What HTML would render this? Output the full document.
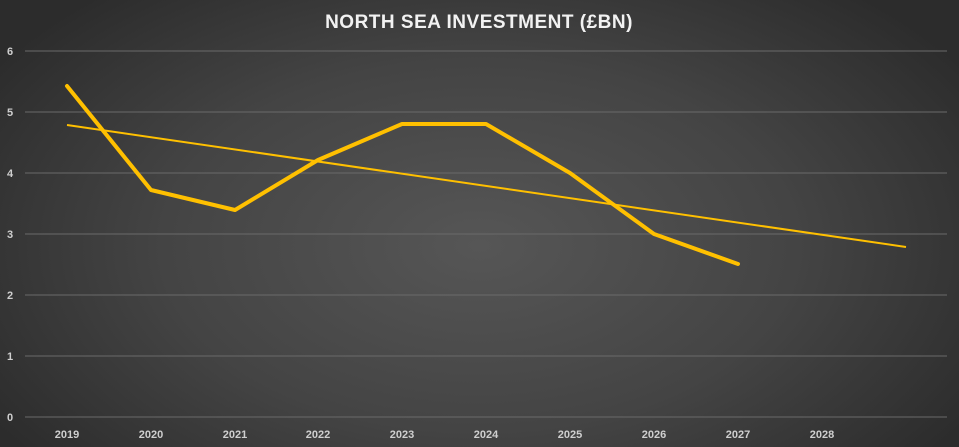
<!DOCTYPE html>
<html><head><style>
html,body{margin:0;padding:0;width:959px;height:447px;overflow:hidden}
body{background:radial-gradient(ellipse 60% 75% at 50% 55%,#565656 0%,#444 55%,#2c2c2c 100%);}
svg{position:absolute;left:0;top:0}
</style></head><body>
<svg width="959" height="447" xmlns="http://www.w3.org/2000/svg" font-family="Liberation Sans, sans-serif">
<text x="479" y="28" text-anchor="middle" fill="#f2f2f2" font-size="19" font-weight="bold" letter-spacing="0.5">NORTH SEA INVESTMENT (£BN)</text>
<g stroke="#6a6a6a" stroke-width="1">
<line x1="25" x2="947" y1="51" y2="51"/><line x1="25" x2="947" y1="112" y2="112"/>
<line x1="25" x2="947" y1="173" y2="173"/><line x1="25" x2="947" y1="234" y2="234"/>
<line x1="25" x2="947" y1="295" y2="295"/><line x1="25" x2="947" y1="356" y2="356"/>
<line x1="25" x2="947" y1="417" y2="417"/></g>
<g fill="#cfcfcf" font-size="11" font-weight="bold">
<text x="7" y="55">6</text><text x="7" y="116">5</text><text x="7" y="177">4</text><text x="7" y="238">3</text><text x="7" y="299">2</text><text x="7" y="360">1</text><text x="7" y="421">0</text>
</g>
<g fill="#cfcfcf" font-size="11" font-weight="bold" text-anchor="middle">
<text x="67" y="438">2019</text><text x="151" y="438">2020</text><text x="235" y="438">2021</text><text x="318" y="438">2022</text><text x="402" y="438">2023</text><text x="486" y="438">2024</text><text x="570" y="438">2025</text><text x="654" y="438">2026</text><text x="738" y="438">2027</text><text x="822" y="438">2028</text>
</g>
<line x1="67" y1="125" x2="906" y2="247" stroke="#ffc000" stroke-width="2"/>
<polyline points="67,86 151,190 235,210 318,160 402,124 486,124 570,173 654,234 738,264" fill="none" stroke="#ffc000" stroke-width="4" stroke-linejoin="round" stroke-linecap="round"/>
</svg>
</body></html>
